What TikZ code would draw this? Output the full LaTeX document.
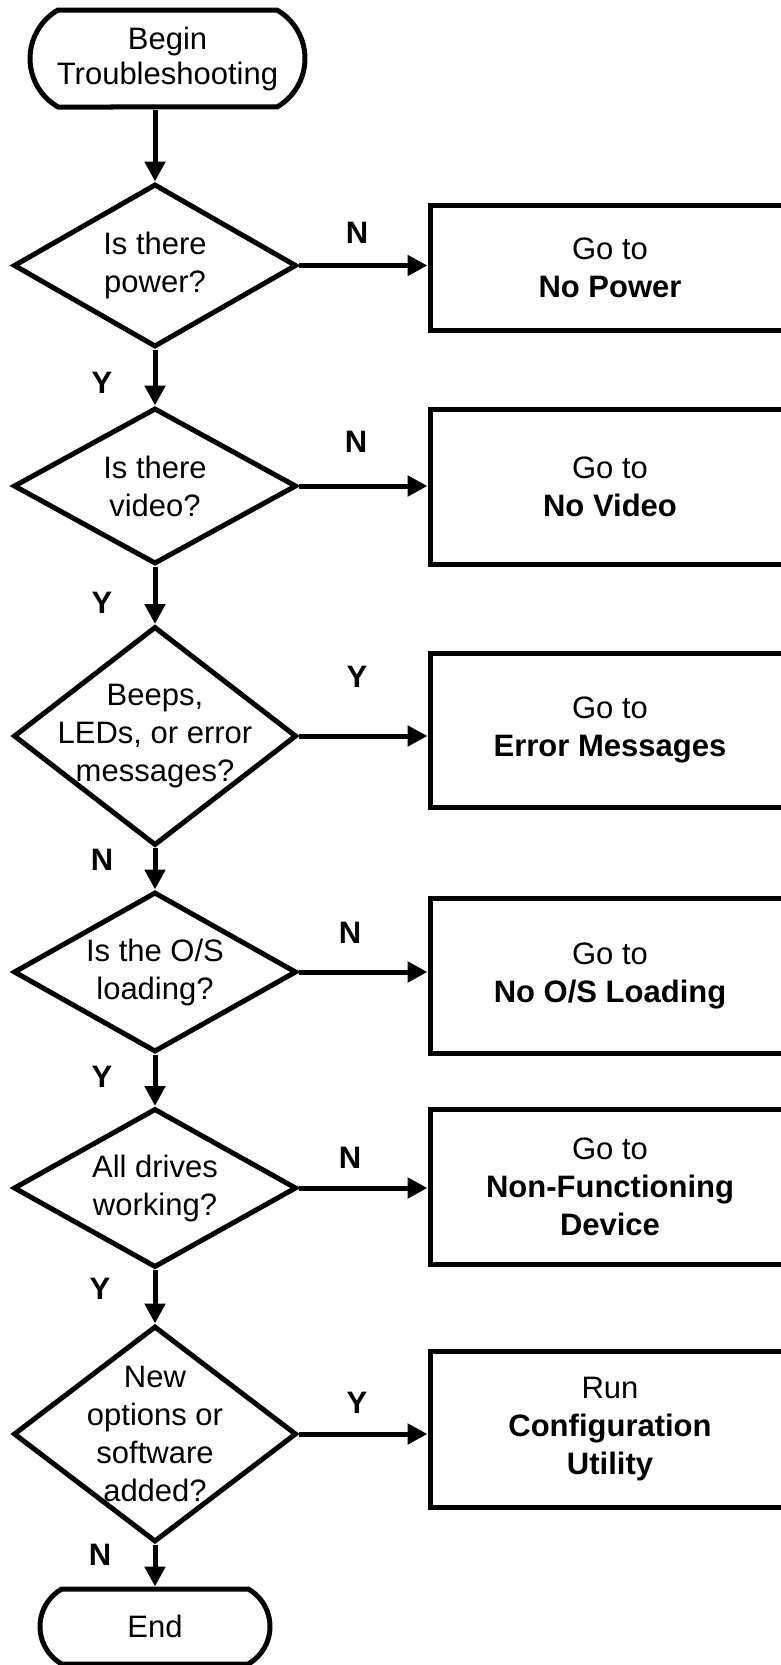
\documentclass[tikz,border=0pt]{standalone}
\usepackage{fontspec}
\setmainfont{Liberation Sans}
\usetikzlibrary{shapes.geometric,shapes.misc,arrows.meta}

\tikzset{
  flowline/.style={line width=2.5pt},
  arr/.style={flowline,-{Triangle[length=10pt,width=10pt]}},
  terminal/.style={rounded rectangle,rounded rectangle arc length=120,draw,flowline,inner sep=0pt,align=center},
  decision/.style={diamond,draw,flowline,inner sep=0pt,minimum width=141.5pt},
  gotobox/.style={rectangle,draw,flowline,inner sep=0pt,minimum width=180pt,align=center},
  yn/.style={font=\bfseries}
}

\begin{document}
\begin{tikzpicture}[x=0.5pt,y=-0.5pt]
  \fontsize{15.5pt}{19pt}\selectfont
  \useasboundingbox (0,0) rectangle (781,1665);

  % start
  \node[terminal,minimum width=137.5pt,minimum height=48.5pt,font={\fontsize{15.5pt}{17.5pt}\selectfont}] (begin) at (167.5,58.5) {Begin\\Troubleshooting};

  % questions
  \node[decision,minimum height=81.5pt,label={[align=center]center:Is there\\power?}] (power) at (155,265.5) {};
  \node[decision,minimum height=78pt,label={[align=center]center:Is there\\video?}] (video) at (155,486) {};
  \node[decision,minimum height=109.5pt,label={[align=center]center:{Beeps,\\LEDs, or error\\messages?}}] (beeps) at (155,736) {};
  \node[decision,minimum height=80pt,label={[align=center]center:Is the O/S\\loading?}] (osload) at (155,972) {};
  \node[decision,minimum height=79.5pt,label={[align=center]center:All drives\\working?}] (drives) at (155,1188) {};
  \node[decision,minimum height=108pt,label={[align=center]center:New\\options or\\software\\added?}] (added) at (155,1434) {};

  % end
  \node[terminal,minimum width=115pt,minimum height=37.5pt] (end) at (155,1626.5) {End};

  % actions
  \node[gotobox,minimum height=62.5pt] (nopower) at (610,267.5) {Go to\\\textbf{No Power}};
  \node[gotobox,minimum height=77.5pt] (novideo) at (610,486.5) {Go to\\\textbf{No Video}};
  \node[gotobox,minimum height=77pt] (errmsg) at (610,730) {Go to\\\textbf{Error Messages}};
  \node[gotobox,minimum height=77.5pt] (noos) at (610,975.5) {Go to\\\textbf{No O/S Loading}};
  \node[gotobox,minimum height=77.5pt] (device) at (610,1186.5) {Go to\\\textbf{Non-Functioning}\\\textbf{Device}};
  \node[gotobox,minimum height=78pt] (config) at (610,1429) {Run\\\textbf{Configuration}\\\textbf{Utility}};

  % main line
  \draw[arr] (begin.south -| power.north) -- (power.north);
  \draw[arr] (power.south) -- (video.north);
  \draw[arr] (video.south) -- (beeps.north);
  \draw[arr] (beeps.south) -- (osload.north);
  \draw[arr] (osload.south) -- (drives.north);
  \draw[arr] (drives.south) -- (added.north);
  \draw[arr] (added.south) -- (end.north);

  % branches
  \draw[arr] (power.east) -- (power.east -| nopower.west);
  \draw[arr] (video.east) -- (video.east -| novideo.west);
  \draw[arr] (beeps.east) -- (beeps.east -| errmsg.west);
  \draw[arr] (osload.east) -- (osload.east -| noos.west);
  \draw[arr] (drives.east) -- (drives.east -| device.west);
  \draw[arr] (added.east) -- (added.east -| config.west);

  % answers
  \node[yn] (a1) at (357,233) {N};
  \node[yn] (a2) at (102,383) {Y};
  \node[yn] (a3) at (356,442) {N};
  \node[yn] (a4) at (102,603) {Y};
  \node[yn] (a5) at (357,677) {Y};
  \node[yn] (a6) at (102,860) {N};
  \node[yn] (a7) at (350,933) {N};
  \node[yn] (a8) at (102,1077) {Y};
  \node[yn] (a9) at (350,1158) {N};
  \node[yn] (a10) at (100,1289) {Y};
  \node[yn] (a11) at (357,1403) {Y};
  \node[yn] (a12) at (100,1555) {N};
\end{tikzpicture}
\end{document}
